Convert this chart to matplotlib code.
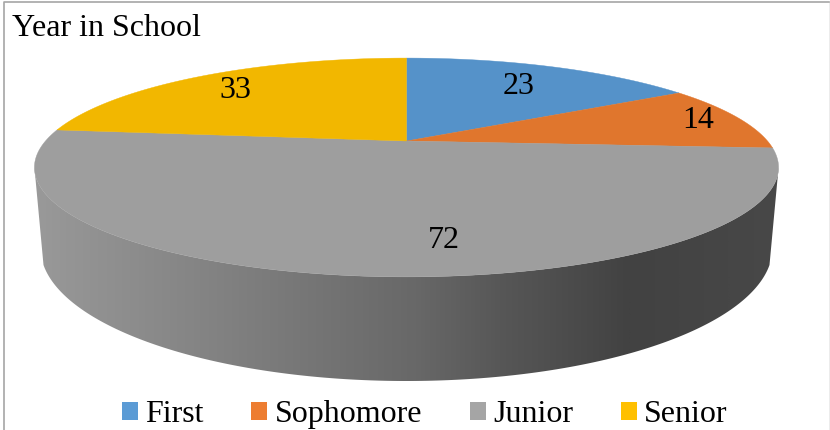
import numpy as np
import matplotlib
matplotlib.use('Agg')
from matplotlib import pyplot as plt
from matplotlib.colors import LinearSegmentedColormap
from matplotlib.patches import Patch, Polygon, Rectangle

title = 'Year in School'
categories = ['First', 'Sophomore', 'Junior', 'Senior']
values = [23, 14, 72, 33]

top_colors = ['#5592c9', '#e0762d', '#9e9e9e', '#f2b700']
legend_colors = ['#5b9bd5', '#ed7d31', '#a5a5a5', '#ffc000']
label_xy = [(519, 87), (698, 121), (444, 240), (235, 90)]

# shading of the side wall, left to right
wall_x = [34, 50, 200, 415, 500, 630, 779]
wall_grey = ['#9a9a9a', '#979797', '#848484', '#686868', '#575757', '#424242', '#484848']

plt.rcParams['font.family'] = ['Liberation Serif', 'DejaVu Serif']

# perspective of the tilted disc
cx = 406.5
cy_top = 141.
rx = 361.
ry = 103.
persp = 0.242

# lower rim of the wall is close to a plain ellipse
cy_bottom = 248.
rx_bottom = 366.
ry_bottom = 133.
rim_cut = 17.


def project(theta):
    u = np.sin(theta)
    v = np.cos(theta)
    w = 1. + persp * v
    return cx + rx * u / w, cy_top - ry * v / w


fig = plt.figure(figsize=(8.3, 4.3), dpi=100)
ax = fig.add_axes([0, 0, 1, 1])

# side wall: lower rim, then back along the front of the top disc
t_rim = np.arccos(-rim_cut / ry_bottom)
t = np.linspace(t_rim, 2. * np.pi - t_rim, 400)
xb = cx + rx_bottom * np.sin(t)
yb = cy_bottom - ry_bottom * np.cos(t)
t_ext = np.arccos(-persp)
xt, yt = project(np.linspace(2. * np.pi - t_ext, t_ext, 400))
wall = Polygon(np.column_stack([np.r_[xb, xt], np.r_[yb, yt]]),
               closed=True, fc='none', ec='none')
ax.add_patch(wall)

stops = [(x - wall_x[0]) / (wall_x[-1] - wall_x[0]) for x in wall_x]
cmap = LinearSegmentedColormap.from_list('wall', list(zip(stops, wall_grey)))
im = ax.imshow(np.linspace(0, 1, 512)[None, :], cmap=cmap, aspect='auto',
               extent=(wall_x[0], wall_x[-1], 400, 150), zorder=1)
im.set_clip_path(wall)

# top surface
edges = np.cumsum([0.] + values) / np.sum(values) * 2. * np.pi
for i, color in enumerate(top_colors):
    t = np.linspace(edges[i], edges[i + 1], 300)
    x, y = project(t)
    ax.fill(np.r_[cx, x], np.r_[cy_top, y], color=color, lw=0.3, zorder=2)

for val, (x, y) in zip(values, label_xy):
    ax.text(x, y, str(val), fontsize=23, ha='center', va='center',
            color='black', zorder=3)

ax.text(12, 28, title, fontsize=23, ha='left', va='center', color='black')

handles = [Patch(fc=c, ec='none', label=n)
           for c, n in zip(legend_colors, categories)]
ax.legend(handles=handles, ncols=4, loc='lower left',
          bbox_to_anchor=(122 / 830., 0.002), frameon=False, fontsize=23,
          handlelength=0.5, handleheight=0.5, handletextpad=0.22,
          columnspacing=1.5, borderpad=0, borderaxespad=0, labelspacing=0)

# chart frame, cut off at the bottom
ax.plot([3.5, 3.5, 829], [430, 1.5, 1.5], color='#a6a6a6', lw=1.2, zorder=4)
ax.add_patch(Rectangle((828.5, 2), 1.5, 428, fc='#ececec', ec='none'))

ax.set_xlim(0, 830)
ax.set_ylim(430, 0)
ax.axis('off')

fig.savefig('out.png', dpi=100)
